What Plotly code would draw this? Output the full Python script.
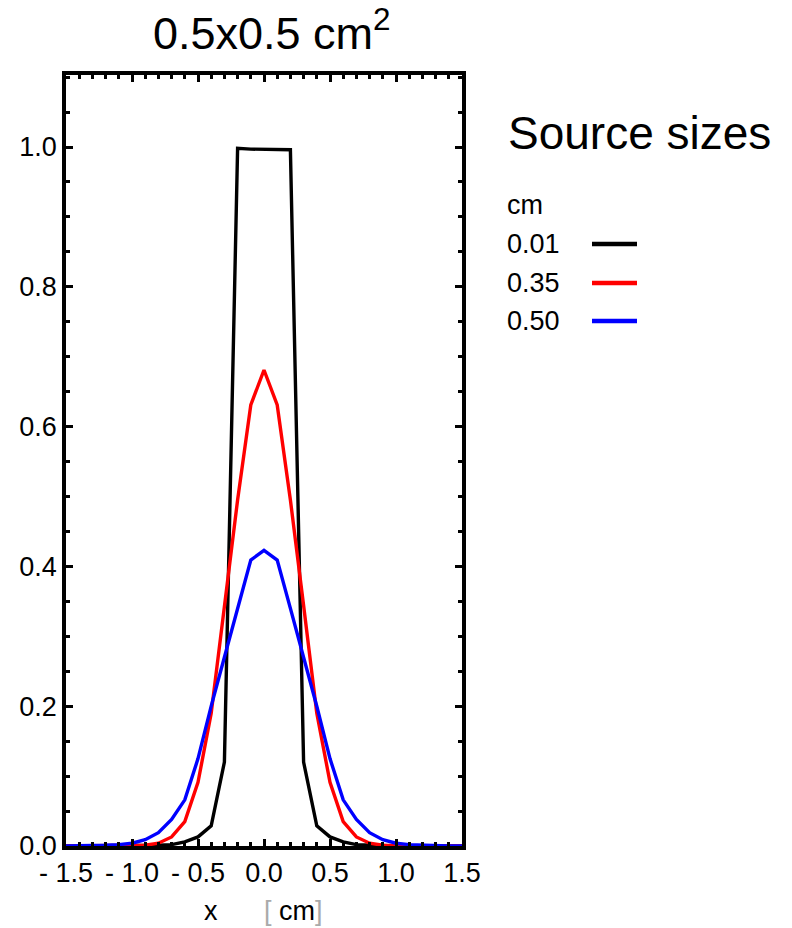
import plotly.graph_objects as go

x_cm = [-1.5, -1.4, -1.3, -1.2, -1.1, -1.0, -0.9, -0.8, -0.7, -0.6, -0.5, -0.4, -0.3, -0.2, -0.1,
        0.0, 0.1, 0.2, 0.3, 0.4, 0.5, 0.6, 0.7, 0.8, 0.9, 1.0, 1.1, 1.2, 1.3, 1.4, 1.5]

src_001 = [0.0, 0.0, 0.0, 0.0, 0.0, 0.0, 0.0, 0.001, 0.002, 0.006, 0.013, 0.029, 0.12, 0.998, 0.997,
           0.997, 0.996, 0.996, 0.12, 0.029, 0.013, 0.006, 0.002, 0.001, 0.0, 0.0, 0.0, 0.0, 0.0, 0.0, 0.0]
src_035 = [0.0, 0.0, 0.0, 0.0, 0.0, 0.0, 0.001, 0.004, 0.013, 0.035, 0.091, 0.19, 0.344, 0.495, 0.631,
           0.681, 0.631, 0.495, 0.344, 0.19, 0.091, 0.035, 0.013, 0.004, 0.001, 0.0, 0.0, 0.0, 0.0, 0.0, 0.0]
src_050 = [0.0, 0.0, 0.0, 0.001, 0.002, 0.004, 0.009, 0.019, 0.038, 0.066, 0.125, 0.2, 0.27, 0.34, 0.409,
           0.423, 0.409, 0.34, 0.27, 0.2, 0.125, 0.066, 0.038, 0.019, 0.009, 0.004, 0.002, 0.001, 0.0, 0.0, 0.0]

series_names = ["0.01", "0.35", "0.50"]
series_colors = ["#000000", "#ff0000", "#0000ff"]
series_values = [src_001, src_035, src_050]

x_tickvals = [-1.5, -1.0, -0.5, 0.0, 0.5, 1.0, 1.5]
x_ticktext = ["- 1.5", "- 1.0", "- 0.5", "0.0", "0.5", "1.0", "1.5"]
y_tickvals = [0.0, 0.2, 0.4, 0.6, 0.8, 1.0]
y_ticktext = ["0.0", "0.2", "0.4", "0.6", "0.8", "1.0"]

FONT = "Liberation Sans, Arial, sans-serif"
W, H = 792, 928
L, R, T, B = 66, 462, 75, 846

fig = go.Figure()
for name, col, vals in zip(series_names, series_colors, series_values):
    fig.add_trace(go.Scatter(x=x_cm, y=vals, mode="lines", name=name,
                             line=dict(color=col, width=3.4), showlegend=False))

axis_common = dict(showgrid=False, zeroline=False, showline=True, linecolor="black",
                   linewidth=3.5, mirror="ticks", ticks="inside", ticklen=7, tickwidth=2.5,
                   tickcolor="black", tickfont=dict(family=FONT, size=27, color="black"))

fig.update_xaxes(range=[-1.5, 1.5], tickvals=x_tickvals, ticktext=x_ticktext,
                 minor=dict(dtick=0.1, tick0=0, ticks="inside", ticklen=4, tickwidth=2.5, tickcolor="black"),
                 **axis_common)
fig.update_yaxes(range=[0, 1.103], tickvals=y_tickvals, ticktext=y_ticktext, ticklabelstandoff=0,
                 minor=dict(dtick=0.05, tick0=0, ticks="inside", ticklen=4, tickwidth=2.5, tickcolor="black"),
                 **axis_common)

def px(xp):
    return (xp - L) / (R - L)

def py(yp):
    return (B - yp) / (B - T)

annotations = [
    dict(text="0.5x0.5 cm<sup>2</sup>", x=px(272), y=py(30), xref="paper", yref="paper",
         xanchor="center", yanchor="middle", showarrow=False,
         font=dict(family=FONT, size=45, color="black")),
    dict(text="x", x=px(211), y=py(911), xref="paper", yref="paper",
         xanchor="center", yanchor="middle", showarrow=False,
         font=dict(family=FONT, size=27, color="black")),
    dict(text="<span style='color:#aaaaaa'>[</span> cm<span style='color:#aaaaaa'>]</span>",
         x=px(262), y=py(911), xref="paper", yref="paper",
         xanchor="left", yanchor="middle", showarrow=False,
         font=dict(family=FONT, size=27, color="black")),
    dict(text="Source sizes", x=px(506), y=py(133), xref="paper", yref="paper",
         xanchor="left", yanchor="middle", showarrow=False,
         font=dict(family=FONT, size=46, color="black")),
    dict(text="cm", x=px(505), y=py(205), xref="paper", yref="paper",
         xanchor="left", yanchor="middle", showarrow=False,
         font=dict(family=FONT, size=27, color="black")),
]
shapes = []
legend_y = [244, 283, 321]
for name, col, yy in zip(series_names, series_colors, legend_y):
    annotations.append(dict(text=name, x=px(505), y=py(yy), xref="paper", yref="paper",
                            xanchor="left", yanchor="middle", showarrow=False,
                            font=dict(family=FONT, size=27, color="black")))
    shapes.append(dict(type="line", xref="paper", yref="paper",
                       x0=px(592), x1=px(637), y0=py(yy), y1=py(yy),
                       line=dict(color=col, width=4.5)))

fig.update_layout(width=W, height=H, margin=dict(l=L, r=W - R, t=T, b=H - B),
                  paper_bgcolor="white", plot_bgcolor="white",
                  annotations=annotations, shapes=shapes,
                  font=dict(family=FONT, color="black"))

fig.write_html("out.html", config={"displayModeBar": False},
               post_script="document.body.style.margin='0';document.body.style.padding='0';"
                           "document.body.style.overflow='hidden';")
